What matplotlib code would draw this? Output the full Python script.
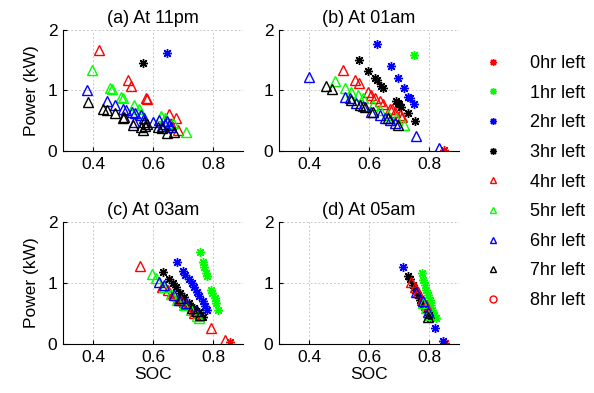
import matplotlib
matplotlib.use("Agg")
import matplotlib.pyplot as plt
from matplotlib.lines import Line2D

plt.rcParams['font.family'] = ['Liberation Sans', 'DejaVu Sans']

labels = ["0hr left", "1hr left", "2hr left", "3hr left", "4hr left",
          "5hr left", "6hr left", "7hr left", "8hr left"]
titles = ["(a) At 11pm", "(b) At 01am", "(c) At 03am", "(d) At 05am"]
x_ticks = [0.4, 0.6, 0.8]
y_ticks = [0, 1, 2]

# ---- (a) At 11pm ----
a_x0, a_y0 = [], []
a_x1, a_y1 = [], []
a_x2, a_y2 = [0.647], [1.62]
a_x3, a_y3 = [0.568], [1.46]
a_x4 = [0.419, 0.517, 0.528, 0.577, 0.581, 0.654, 0.677, 0.682, 0.66]
a_y4 = [1.67, 1.18, 1.07, 0.87, 0.86, 0.61, 0.55, 0.35, 0.45]
a_x5 = [0.396, 0.458, 0.462, 0.493, 0.499, 0.538, 0.554, 0.56, 0.627, 0.64, 0.666, 0.71]
a_y5 = [1.34, 1.04, 1.03, 0.89, 0.88, 0.76, 0.70, 0.62, 0.58, 0.55, 0.46, 0.31]
a_x6 = [0.381, 0.446, 0.472, 0.499, 0.51, 0.53, 0.54, 0.56, 0.57, 0.538, 0.60, 0.62,
        0.645, 0.654, 0.66, 0.63, 0.64]
a_y6 = [1.01, 0.83, 0.76, 0.70, 0.67, 0.64, 0.63, 0.60, 0.55, 0.48, 0.48, 0.52,
        0.50, 0.43, 0.40, 0.42, 0.45]
a_x7 = [0.383, 0.433, 0.445, 0.472, 0.50, 0.504, 0.532, 0.56, 0.571, 0.574, 0.566,
        0.616, 0.63, 0.646, 0.67, 0.58]
a_y7 = [0.81, 0.69, 0.67, 0.63, 0.55, 0.57, 0.43, 0.40, 0.48, 0.42, 0.35,
        0.40, 0.38, 0.29, 0.32, 0.45]
a_x8, a_y8 = [], []

# ---- (b) At 01am ----
b_x0, b_y0 = [0.849], [0.01]
b_x1, b_y1 = [0.75], [1.58]
b_x2 = [0.628, 0.672, 0.697, 0.717, 0.731, 0.737, 0.75]
b_y2 = [1.77, 1.41, 1.20, 1.04, 0.90, 0.88, 0.78]
b_x3 = [0.566, 0.595, 0.619, 0.625, 0.641, 0.648, 0.69, 0.695, 0.70, 0.708, 0.73, 0.752]
b_y3 = [1.50, 1.33, 1.20, 1.18, 1.08, 1.04, 0.82, 0.79, 0.77, 0.73, 0.62, 0.50]
b_x4 = [0.513, 0.552, 0.566, 0.597, 0.608, 0.62, 0.636, 0.646, 0.669, 0.675, 0.685, 0.702, 0.71]
b_y4 = [1.34, 1.17, 1.12, 0.97, 0.93, 0.88, 0.82, 0.78, 0.70, 0.69, 0.65, 0.59, 0.57]
b_x5 = [0.488, 0.519, 0.541, 0.563, 0.58, 0.613, 0.635, 0.663, 0.69, 0.718]
b_y5 = [1.15, 1.04, 0.98, 0.93, 0.88, 0.76, 0.68, 0.59, 0.54, 0.43]
b_x6 = [0.40, 0.519, 0.535, 0.558, 0.58, 0.608, 0.635, 0.652, 0.669, 0.685, 0.758, 0.833]
b_y6 = [1.23, 0.90, 0.87, 0.79, 0.74, 0.65, 0.59, 0.54, 0.51, 0.47, 0.25, 0.05]
b_x7 = [0.456, 0.477, 0.541, 0.569, 0.586, 0.613, 0.663, 0.697]
b_y7 = [1.08, 1.02, 0.84, 0.76, 0.72, 0.65, 0.54, 0.43]
b_x8, b_y8 = [], []

# ---- (c) At 03am ----
c_x0 = [0.856, 0.659, 0.675, 0.698, 0.715, 0.731, 0.742, 0.753]
c_y0 = [0.03, 0.78, 0.72, 0.66, 0.61, 0.54, 0.49, 0.45]
c_x1 = [0.757, 0.765, 0.77, 0.776, 0.781, 0.792, 0.798, 0.806, 0.809, 0.817]
c_y1 = [1.51, 1.35, 1.27, 1.16, 1.11, 0.89, 0.83, 0.75, 0.67, 0.56]
c_x2 = [0.681, 0.701, 0.708, 0.72, 0.729, 0.737, 0.746, 0.753, 0.765, 0.772, 0.781]
c_y2 = [1.35, 1.19, 1.13, 1.06, 1.00, 0.93, 0.86, 0.79, 0.70, 0.62, 0.56]
c_x3 = [0.633, 0.653, 0.665, 0.676, 0.69, 0.703, 0.72, 0.737, 0.753, 0.765]
c_y3 = [1.18, 1.06, 1.00, 0.93, 0.84, 0.77, 0.68, 0.59, 0.53, 0.45]
c_x4 = [0.557, 0.631, 0.65, 0.692, 0.71, 0.737, 0.792, 0.84]
c_y4 = [1.28, 0.94, 0.88, 0.72, 0.66, 0.51, 0.26, 0.07]
c_x5 = [0.595, 0.609, 0.637, 0.659, 0.681, 0.703, 0.725, 0.748, 0.754]
c_y5 = [1.15, 1.08, 0.94, 0.82, 0.72, 0.64, 0.56, 0.46, 0.43]
c_x6 = [0.62, 0.637, 0.67, 0.687, 0.709, 0.742]
c_y6 = [1.02, 0.96, 0.81, 0.72, 0.67, 0.54]
c_x7 = [0.692, 0.731, 0.745, 0.758]
c_y7 = [0.76, 0.59, 0.54, 0.47]
c_x8, c_y8 = [], []

# ---- (d) At 05am ----
d_x0, d_y0 = [0.853], [0.02]
d_x1 = [0.777, 0.78, 0.786, 0.791, 0.797, 0.802, 0.806, 0.811, 0.817, 0.822]
d_y1 = [1.17, 1.05, 0.97, 0.89, 0.81, 0.72, 0.64, 0.56, 0.48, 0.42]
d_x2 = [0.713, 0.821, 0.847]
d_y2 = [1.26, 0.26, 0.05]
d_x3 = [0.73, 0.737, 0.745, 0.753, 0.763, 0.771, 0.78, 0.79, 0.80, 0.804]
d_y3 = [1.11, 1.06, 0.97, 0.89, 0.81, 0.72, 0.64, 0.56, 0.48, 0.42]
d_x4 = [0.741, 0.752, 0.763, 0.775, 0.79]
d_y4 = [1.01, 0.94, 0.86, 0.72, 0.64]
d_x5 = [0.78, 0.79, 0.80]
d_y5 = [0.67, 0.59, 0.48]
d_x6 = [0.758, 0.78, 0.797]
d_y6 = [0.86, 0.70, 0.53]
d_x7 = [0.797]
d_y7 = [0.45]
d_x8, d_y8 = [], []

panels = [
    [(a_x0, a_y0), (a_x1, a_y1), (a_x2, a_y2), (a_x3, a_y3), (a_x4, a_y4),
     (a_x5, a_y5), (a_x6, a_y6), (a_x7, a_y7), (a_x8, a_y8)],
    [(b_x0, b_y0), (b_x1, b_y1), (b_x2, b_y2), (b_x3, b_y3), (b_x4, b_y4),
     (b_x5, b_y5), (b_x6, b_y6), (b_x7, b_y7), (b_x8, b_y8)],
    [(c_x0, c_y0), (c_x1, c_y1), (c_x2, c_y2), (c_x3, c_y3), (c_x4, c_y4),
     (c_x5, c_y5), (c_x6, c_y6), (c_x7, c_y7), (c_x8, c_y8)],
    [(d_x0, d_y0), (d_x1, d_y1), (d_x2, d_y2), (d_x3, d_y3), (d_x4, d_y4),
     (d_x5, d_y5), (d_x6, d_y6), (d_x7, d_y7), (d_x8, d_y8)],
]

colors = ['#ff0000', '#00ff00', '#0000ff', '#000000']
ast = (8, 2, 0)
styles = []
for i in range(9):
    c = colors[i % 4]
    if i < 4:
        styles.append(dict(marker=ast, color=c, mfc=c, mec=c, ms=6.5, mew=1.0))
    elif i < 8:
        styles.append(dict(marker='^', color=c, mfc='none', mec=c, ms=6.5, mew=1.0))
    else:
        styles.append(dict(marker='o', color=c, mfc='none', mec=c, ms=6, mew=1.0))

fig = plt.figure(figsize=(5.94, 3.93), dpi=100)
W, H = 594.0, 393.0
rects = [
    (63 / W, 1 - 151 / H, 180 / W, 121 / H),
    (279 / W, 1 - 151 / H, 180 / W, 121 / H),
    (63 / W, 1 - 344 / H, 180 / W, 122 / H),
    (279 / W, 1 - 344 / H, 180 / W, 122 / H),
]

for k, rect in enumerate(rects):
    ax = fig.add_axes(rect)
    for i, (xs, ys) in enumerate(panels[k]):
        ax.plot(xs, ys, linestyle='none', **styles[i])
    ax.set_xlim(0.3, 0.9)
    ax.set_ylim(0, 2)
    ax.set_xticks(x_ticks)
    ax.set_yticks(y_ticks)
    ax.set_xticklabels([f"{v:.1f}" for v in x_ticks])
    ax.set_yticklabels([str(v) for v in y_ticks])
    ax.grid(True, color='#c8c8c8', linestyle=(0, (2, 2)), linewidth=0.7)
    ax.set_axisbelow(True)
    for s in ['top', 'right']:
        ax.spines[s].set_visible(False)
    for s in ['left', 'bottom']:
        ax.spines[s].set_linewidth(0.8)
    ax.tick_params(direction='in', length=3, labelsize=12.5, pad=4)
    ax.set_title(titles[k], fontsize=13, pad=5)
    if k >= 2:
        ax.set_xlabel("SOC", fontsize=12.5, labelpad=2)
    if k % 2 == 0:
        ax.set_ylabel("Power (kW)", fontsize=12.5, labelpad=6)

handles = [Line2D([], [], linestyle='none', **{**styles[i], 'ms': 5}) for i in range(9)]
fig.legend(handles, labels, loc='upper left', bbox_to_anchor=(470 / W, 1 - 46 / H),
           frameon=False, fontsize=13, handletextpad=1.3, labelspacing=0.70,
           handlelength=1.5, borderpad=0)

fig.savefig("out.png", dpi=100)
